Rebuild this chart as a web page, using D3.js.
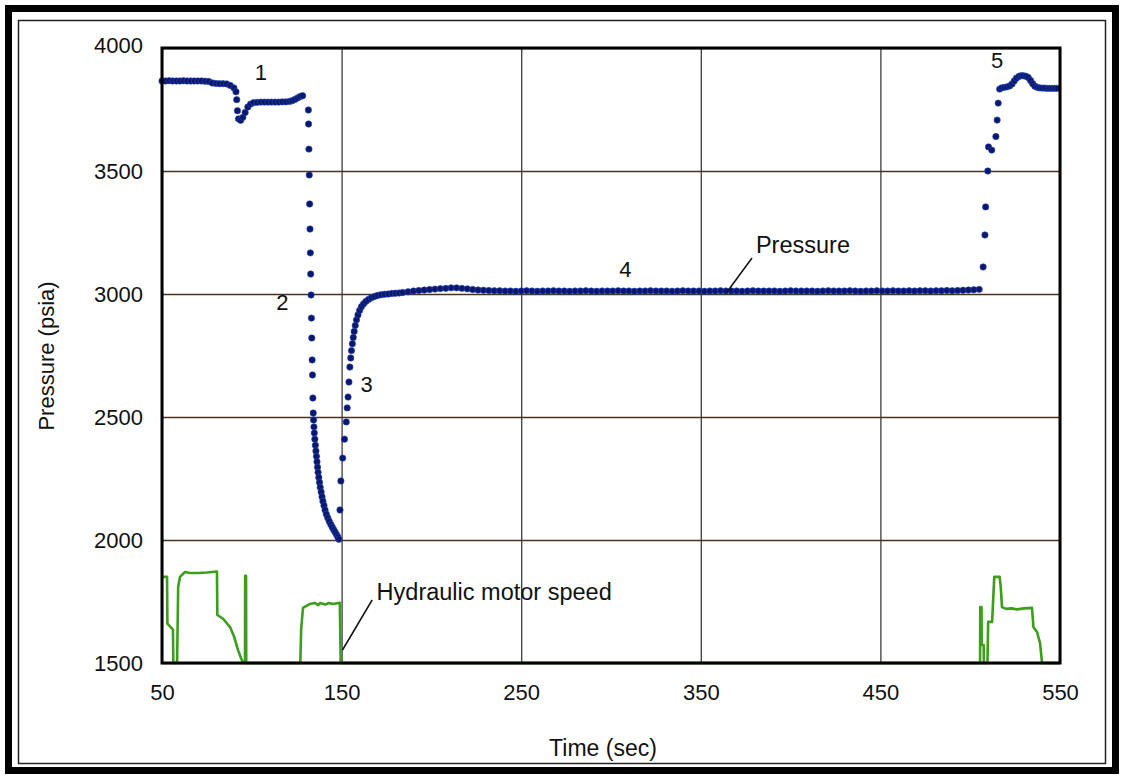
<!DOCTYPE html>
<html>
<head>
<meta charset="utf-8">
<script src="https://cdn.jsdelivr.net/npm/d3@7"></script>
<style>
  body { margin: 0; background: #fff; }
  text { font-family: "Liberation Sans", Arial, sans-serif; fill: #111; }
</style>
</head>
<body>
<div id="chart"></div>
<script>
// ticks
const xTicks = [50, 150, 250, 350, 450, 550];
const yTicks = [1500, 2000, 2500, 3000, 3500, 4000];

// pressure samples [time, psia]
const pressureStart = [
  [50, 3866], [52, 3866], [54, 3867], [56, 3866], [58, 3866], [60, 3866], [62, 3867], [64, 3866],
  [66, 3866], [68, 3866], [70, 3866], [72, 3866], [74, 3865], [76, 3864], [78, 3858], [80, 3856],
  [82, 3855], [84, 3855], [86, 3854], [88, 3848], [90, 3838], [91.2, 3822], [91.6, 3790], [92, 3745],
  [92.6, 3712], [93.8, 3706], [95, 3718], [96.3, 3738], [97.8, 3760], [99.3, 3772], [101, 3778],
  [103, 3779], [105, 3780], [107, 3780], [109, 3780], [111, 3780], [113, 3780], [115, 3780],
  [117, 3781], [119, 3781], [121, 3783], [122.5, 3786], [124, 3791], [125.5, 3797], [127, 3803], [128.3, 3806]
];
const pressureDrop = [
  [131.5, 3748], [131.6, 3691], [131.8, 3589], [132, 3484], [132.2, 3366], [132.4, 3264], [132.6, 3167],
  [132.8, 3081], [133, 2996], [133.2, 2902], [133.4, 2821], [133.6, 2732], [133.8, 2671], [134, 2577],
  [134.2, 2516], [134.4, 2488], [134.6, 2460], [134.8, 2435], [135.1, 2410], [135.4, 2385], [135.7, 2362],
  [136, 2340], [136.3, 2318], [136.6, 2296], [136.9, 2275], [137.3, 2254], [137.7, 2234], [138.1, 2214],
  [138.6, 2195], [139.1, 2176], [139.6, 2158], [140.2, 2140], [140.8, 2122], [141.5, 2105], [142.3, 2090],
  [143.1, 2076], [144, 2063], [144.8, 2052], [145.6, 2042], [146.4, 2032], [147.2, 2022], [147.9, 2012], [148.5, 2003]
];
const pressureRecovery = [
  [149.1, 2122], [149.6, 2240], [150.6, 2333], [151.6, 2410], [152.6, 2480], [153.1, 2537], [153.6, 2581],
  [154.1, 2642], [154.6, 2703], [155.1, 2740], [155.5, 2770], [156, 2798], [156.5, 2823], [157, 2848],
  [157.6, 2872], [158.3, 2895], [159.1, 2915], [160, 2933], [161, 2948], [162.2, 2960], [163.5, 2970],
  [165, 2978], [166.6, 2985], [168.3, 2990], [170, 2994], [172, 2997], [174, 2999], [176, 3000],
  [178, 3002], [180, 3003], [182, 3004]
];
const plateauTime = [
  184, 187, 190, 193, 196, 199, 202, 205, 208, 211, 214, 217, 220, 223, 226, 229, 232, 235, 238, 241,
  244, 247, 250, 253, 256, 259, 262, 265, 268, 271, 274, 277, 280, 283, 286, 289, 292, 295, 298, 301,
  304, 307, 310, 313, 316, 319, 322, 325, 328, 331, 334, 337, 340, 343, 346, 349, 352, 355, 358, 361,
  364, 367, 370, 373, 376, 379, 382, 385, 388, 391, 394, 397, 400, 403, 406, 409, 412, 415, 418, 421,
  424, 427, 430, 433, 436, 439, 442, 445, 448, 451, 454, 457, 460, 463, 466, 469, 472, 475, 478, 481,
  484, 487, 490, 493, 496, 499, 502, 505
];
const plateauPressure = [
  3006, 3009, 3012, 3014, 3016, 3018, 3020, 3022, 3023, 3025, 3025, 3023, 3021, 3018, 3016, 3015, 3014, 3013, 3013, 3012,
  3012, 3011, 3012, 3013, 3012, 3011, 3012, 3012, 3013, 3012, 3012, 3011, 3012, 3012, 3013, 3012, 3011, 3012, 3012, 3012,
  3013, 3012, 3012, 3011, 3012, 3012, 3013, 3012, 3012, 3012, 3011, 3012, 3013, 3012, 3012, 3012, 3011, 3012, 3012, 3013,
  3012, 3012, 3012, 3011, 3012, 3013, 3012, 3012, 3012, 3012, 3011, 3012, 3013, 3012, 3012, 3012, 3012, 3011, 3012, 3013,
  3012, 3012, 3012, 3013, 3012, 3011, 3012, 3012, 3013, 3012, 3012, 3013, 3012, 3012, 3013, 3012, 3013, 3013, 3012, 3013,
  3013, 3014, 3013, 3014, 3015, 3016, 3017, 3019
];
const pressureRise = [
  [507.2, 3110], [508.2, 3240], [508.6, 3354], [509.8, 3500], [510.2, 3598], [512, 3585],
  [514.3, 3640], [515, 3707], [515.6, 3776], [516.4, 3833]
];
const pressureEnd = [
  [517.5, 3838], [519, 3840], [520.5, 3842], [522, 3846], [523.3, 3854], [524.5, 3866], [525.7, 3877],
  [527, 3884], [528.3, 3887], [529.6, 3887], [531, 3885], [532.3, 3880], [533.6, 3868], [534.8, 3855],
  [536, 3845], [537.3, 3840], [538.6, 3838], [540, 3837], [541.4, 3837], [542.8, 3836], [544.2, 3836],
  [545.6, 3836], [547, 3836], [548.4, 3836]
];

// hydraulic motor speed trace, in the chart's vertical units [time, value]
const motorSpeed = [
  [50, 1850], [52.8, 1850], [53, 1660], [55.6, 1640], [56.1, 1634], [56.3, 1500], [58.4, 1500],
  [59, 1810], [60, 1850], [62.8, 1870], [65.6, 1866], [70, 1866], [75, 1868], [80.6, 1872],
  [80.8, 1695], [84, 1680], [87.9, 1646], [90, 1610], [92.3, 1553], [94, 1520], [95.1, 1500],
  [96.2, 1500], [96.3, 1854], [96.8, 1854], [96.9, 1500], [127, 1500], [127.5, 1640], [128.5, 1724],
  [132.4, 1740], [135, 1744], [137, 1735], [138, 1744], [141, 1738], [143, 1744], [145, 1740],
  [149, 1745], [149.5, 1500], [505.5, 1500], [505.6, 1727], [506.3, 1727], [506.4, 1573],
  [507.5, 1573], [507.6, 1500], [509.6, 1500], [510, 1667], [512.2, 1667], [513.4, 1850],
  [516.4, 1850], [517, 1809], [517.7, 1727], [520, 1720], [523, 1722], [526, 1718], [530, 1722],
  [534.4, 1724], [535.2, 1646], [537.2, 1626], [538.9, 1581], [540, 1500], [550, 1500]
];

// annotations
const stageLabels = [
  { text: "1", t: 105, p: 3870 },
  { text: "2", t: 117, p: 2935 },
  { text: "3", t: 164, p: 2600 },
  { text: "4", t: 308, p: 3070 },
  { text: "5", t: 515, p: 3920 }
];

const W = 1121, H = 776;
const margin = { top: 48, right: 61, bottom: 113, left: 162 };
const width = W - margin.left - margin.right,
  height = H - margin.top - margin.bottom;

const svg = d3.select("#chart").append("svg")
  .attr("width", W).attr("height", H)
  .style("background", "#fff");

// outer double frame
svg.append("rect").attr("x", 8.5).attr("y", 8.5).attr("width", W - 14).attr("height", H - 14)
  .attr("fill", "none").attr("stroke", "#000").attr("stroke-width", 7);
svg.append("rect").attr("x", 18.5).attr("y", 20.5).attr("width", W - 34).attr("height", H - 33)
  .attr("fill", "none").attr("stroke", "#222").attr("stroke-width", 1.5);

const g = svg.append("g").attr("transform", `translate(${margin.left},${margin.top})`);

const x = d3.scaleLinear().domain([50, 550]).range([0, width]);
const y = d3.scaleLinear().domain([1500, 4000]).range([height, 0]);

// grid + tick labels
const xAxis = g.append("g").attr("transform", `translate(0,${height})`)
  .call(d3.axisBottom(x).tickValues(xTicks).tickSize(-height).tickPadding(21).tickFormat(d3.format("d")));
xAxis.select(".domain").remove();
xAxis.selectAll("line").attr("stroke", "#3b3b3b").attr("stroke-width", 1.3);
xAxis.selectAll("text").attr("font-size", 22).style("font-family", "Liberation Sans, Arial, sans-serif").attr("fill", "#111");

const yAxis = g.append("g")
  .call(d3.axisLeft(y).tickValues(yTicks).tickSize(-width).tickPadding(19).tickFormat(d3.format("d")));
yAxis.select(".domain").remove();
yAxis.selectAll("line").attr("stroke", "#4a3222").attr("stroke-width", 1.4);
yAxis.selectAll("text").attr("font-size", 22).style("font-family", "Liberation Sans, Arial, sans-serif").attr("fill", "#111");
yAxis.selectAll(".tick").filter(d => d === 4000).select("text").attr("dy", "0.2em");

// motor speed trace
g.append("path")
  .datum(motorSpeed)
  .attr("fill", "none")
  .attr("stroke", "#3c9e1c")
  .attr("stroke-width", 2.6)
  .attr("stroke-linejoin", "round")
  .attr("d", d3.line().x(d => x(d[0])).y(d => y(d[1])));

// pressure dots
const plateau = plateauTime.map((t, i) => [t, plateauPressure[i]]);
const pressure = [].concat(pressureStart, pressureDrop, pressureRecovery, plateau, pressureRise, pressureEnd);

g.selectAll("circle.p")
  .data(pressure)
  .join("circle")
  .attr("class", "p")
  .attr("cx", d => x(d[0]))
  .attr("cy", d => y(d[1]))
  .attr("r", 3.2)
  .attr("fill", "#0b1868")
  .attr("stroke", "#2446c4")
  .attr("stroke-width", 0.6);

// plot frame
g.append("rect").attr("width", width).attr("height", height)
  .attr("fill", "none").attr("stroke", "#000").attr("stroke-width", 3);

// stage numbers
g.selectAll("text.stage")
  .data(stageLabels)
  .join("text")
  .attr("class", "stage")
  .attr("x", d => x(d.t))
  .attr("y", d => y(d.p))
  .attr("text-anchor", "middle")
  .attr("font-size", 22)
  .text(d => d.text);

// callouts
g.append("line")
  .attr("x1", x(378.5)).attr("y1", y(3000) - 36)
  .attr("x2", x(364.6)).attr("y2", y(3000) - 2)
  .attr("stroke", "#111").attr("stroke-width", 1.5);
g.append("text")
  .attr("x", x(380.7)).attr("y", y(3000) - 41)
  .attr("font-size", 23.5)
  .text("Pressure");

g.append("line")
  .attr("x1", x(167)).attr("y1", y(1500) - 63)
  .attr("x2", x(150.5)).attr("y2", y(1500) - 13)
  .attr("stroke", "#111").attr("stroke-width", 1.5);
g.append("text")
  .attr("x", x(169.5)).attr("y", y(1500) - 63)
  .attr("font-size", 23.5)
  .text("Hydraulic motor speed");

// axis titles
svg.append("text")
  .attr("x", 603).attr("y", 756)
  .attr("text-anchor", "middle")
  .attr("font-size", 23)
  .text("Time (sec)");
svg.append("text")
  .attr("transform", "translate(54,356) rotate(-90)")
  .attr("text-anchor", "middle")
  .attr("font-size", 22)
  .text("Pressure (psia)");
</script>
</body>
</html>
